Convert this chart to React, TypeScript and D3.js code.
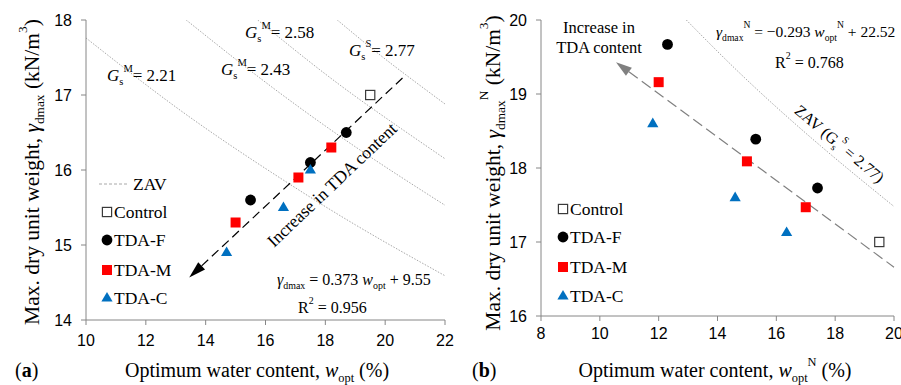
import React from 'react';
import * as d3 from 'd3';

const SERIF = '"Liberation Serif", "DejaVu Serif", serif';
const SANS = '"Liberation Sans", Arial, sans-serif';

// ---------- panel (a) data ----------
const controlA = [[19.5, 17.0]];
const tdaFA = [[15.5, 15.6], [17.5, 16.1], [18.7, 16.5]];
const tdaMA = [[15.0, 15.3], [17.1, 15.9], [18.2, 16.3]];
const tdaCA = [[14.7, 14.9], [16.6, 15.5], [17.5, 16.0]];
const fitA = { slope: 0.373, intercept: 9.55, from: 13.45, to: 20.7 };
// ZAV curves (w %, gamma kN/m3)
const zavA = [
  [[10, 17.76], [13, 16.84], [16, 16.02], [19, 15.27], [22, 14.59]],
  [[13.35, 18.0], [16, 17.17], [19, 16.31], [22, 15.53]],
  [[15.74, 18.0], [18, 17.28], [20, 16.7], [22, 16.15]],
  [[18.4, 18.0], [20, 17.48], [22, 16.88]],
];
const gsLabelsA = [
  { sup: 'M', val: '2.21', x: 107, y: 81 },
  { sup: 'M', val: '2.43', x: 221, y: 75 },
  { sup: 'M', val: '2.58', x: 245, y: 38 },
  { sup: 'S', val: '2.77', x: 349, y: 56 },
];
const xTicksA = [10, 12, 14, 16, 18, 20, 22];
const yTicksA = [14, 15, 16, 17, 18];

// ---------- panel (b) data ----------
const controlB = [[19.5, 17.0]];
const tdaFB = [[12.3, 19.67], [15.3, 18.39], [17.4, 17.73]];
const tdaMB = [[12.0, 19.16], [15.0, 18.09], [17.0, 17.47]];
const tdaCB = [[11.8, 18.6], [14.6, 17.6], [16.35, 17.13]];
const fitB = { slope: -0.293, intercept: 22.52, from: 10.55, to: 20.0 };
const zavB = [[[12.94, 20.0], [15, 19.19], [17.5, 18.3], [20, 17.48]]];
const xTicksB = [8, 10, 12, 14, 16, 18, 20];
const yTicksB = [16, 17, 18, 19, 20];

const legendNames = ['Control', 'TDA-F', 'TDA-M', 'TDA-C'];
const legendKinds = ['control', 'F', 'M', 'C'];

const xA = d3.scaleLinear().domain([10, 22]).range([86, 445]);
const yA = d3.scaleLinear().domain([14, 18]).range([320, 20]);
const xB = d3.scaleLinear().domain([8, 20]).range([541, 894]);
const yB = d3.scaleLinear().domain([16, 20]).range([316, 20]);

const AXIS = '#868686';
const ZAVC = '#a8a8a8';

type Part = { s: string; k?: 'sub' | 'sup'; i?: boolean; b?: boolean };

function Rich({ x = 0, y = 0, size, parts, anchor = 'start', transform, fill = '#000' }: any) {
  let cur = 0;
  return (
    <text x={x} y={y} fontSize={size} fontFamily={SERIF} textAnchor={anchor} transform={transform} fill={fill}>
      {parts.map((p: Part, i: number) => {
        const target = p.k === 'sub' ? size * 0.25 : p.k === 'sup' ? -size * 0.55 : 0;
        const dy = target - cur;
        cur = target;
        return (
          <tspan key={i} dy={dy} fontSize={p.k ? size * 0.62 : size} fontStyle={p.i ? 'italic' : 'normal'} fontWeight={p.b ? 'bold' : 'normal'}>
            {p.s}
          </tspan>
        );
      })}
    </text>
  );
}

function Marker({ kind, x, y }: any) {
  if (kind === 'control')
    return <rect x={x - 4.6} y={y - 4.6} width={9.2} height={9.2} fill="#fff" stroke="#3a3a3a" strokeWidth={1.2} />;
  if (kind === 'F') return <circle cx={x} cy={y} r={5.4} fill="#000" />;
  if (kind === 'M') return <rect x={x - 5} y={y - 5} width={10} height={10} fill="#ff0000" />;
  return <path d={`M${x},${y - 6}L${x + 5.6},${y + 3.6}L${x - 5.6},${y + 3.6}Z`} fill="#0070c0" />;
}

function Axes({ x, y, xTicks, yTicks, xLabelDy }: any) {
  const [x0, x1] = x.range();
  const [yb, yt] = y.range();
  return (
    <g>
      <line x1={x0} x2={x0} y1={yt} y2={yb} stroke={AXIS} />
      <line x1={x0} x2={x1} y1={yb} y2={yb} stroke={AXIS} />
      {yTicks.map((t: number) => (
        <g key={'y' + t}>
          <line x1={x0 - 5} x2={x0} y1={y(t)} y2={y(t)} stroke={AXIS} />
          <text x={x0 - 14} y={y(t)} dy="0.36em" textAnchor="end" fontFamily={SANS} fontSize={16}>{t}</text>
        </g>
      ))}
      {xTicks.map((t: number) => (
        <g key={'x' + t}>
          <line x1={x(t)} x2={x(t)} y1={yb} y2={yb + 5} stroke={AXIS} />
          <text x={x(t)} y={yb + xLabelDy} textAnchor="middle" fontFamily={SANS} fontSize={16}>{t}</text>
        </g>
      ))}
    </g>
  );
}

function FitArrow({ fit, x, y, color, dash, len, hw }: any) {
  const p0 = [x(fit.from), y(fit.slope * fit.from + fit.intercept)];
  const p1 = [x(fit.to), y(fit.slope * fit.to + fit.intercept)];
  const d = Math.hypot(p1[0] - p0[0], p1[1] - p0[1]);
  const u = [(p1[0] - p0[0]) / d, (p1[1] - p0[1]) / d];
  const n = [-u[1], u[0]];
  const b = [p0[0] + u[0] * len, p0[1] + u[1] * len];
  return (
    <g>
      <line x1={b[0]} y1={b[1]} x2={p1[0]} y2={p1[1]} stroke={color} strokeWidth={1.2} strokeDasharray={dash} />
      <path
        d={`M${p0[0]},${p0[1]}L${b[0] + n[0] * hw},${b[1] + n[1] * hw}L${b[0] - n[0] * hw},${b[1] - n[1] * hw}Z`}
        fill={color}
      />
    </g>
  );
}

function Legend({ x, ys }: any) {
  return (
    <g>
      {legendNames.map((name, i) => (
        <g key={name}>
          <Marker kind={legendKinds[i]} x={x} y={ys[i]} />
          <text x={x + 7} y={ys[i]} dy="0.33em" fontFamily={SERIF} fontSize={17.5}>{name}</text>
        </g>
      ))}
    </g>
  );
}

export default function App() {
  const zavLineA = d3.line().x((d: any) => xA(d[0])).y((d: any) => yA(d[1])).curve(d3.curveNatural);
  const zavLineB = d3.line().x((d: any) => xB(d[0])).y((d: any) => yB(d[1])).curve(d3.curveNatural);
  const series = (ctrl: any, f: any, m: any, c: any) => [
    ['control', ctrl], ['F', f], ['M', m], ['C', c],
  ];

  return (
    <svg width={901} height={385} style={{ position: 'absolute', left: 0, top: 0, background: '#fff' }}>
      <defs>
        <clipPath id="clipA"><rect x={86} y={20} width={359} height={300} /></clipPath>
        <clipPath id="clipB"><rect x={541} y={20} width={353} height={296} /></clipPath>
      </defs>

      {/* ---------- (a) ---------- */}
      <g clipPath="url(#clipA)">
        {zavA.map((pts, i) => (
          <path key={i} d={zavLineA(pts as any) || ''} fill="none" stroke={ZAVC} strokeWidth={1} strokeDasharray="1.5,1.5" />
        ))}
      </g>
      <Axes x={xA} y={yA} xTicks={xTicksA} yTicks={yTicksA} xLabelDy={26} />
      {gsLabelsA.map((g) => (
        <Rich key={g.val} x={g.x} y={g.y} size={17}
          parts={[{ s: 'G', i: true }, { s: 's', k: 'sub' }, { s: g.sup, k: 'sup' }, { s: '= ' + g.val }]} />
      ))}
      <FitArrow fit={fitA} x={xA} y={yA} color="#000" dash="9,5" len={17} hw={5} />
      {series(controlA, tdaFA, tdaMA, tdaCA).map(([k, pts]: any) =>
        pts.map((p: number[], i: number) => <Marker key={k + i} kind={k} x={xA(p[0])} y={yA(p[1])} />)
      )}
      <Rich x={0} y={0} size={17.5} anchor="middle" transform="translate(336,189) rotate(-43.5)"
        parts={[{ s: 'Increase in TDA content' }]} />
      <line x1={99} x2={128} y1={184} y2={184} stroke={ZAVC} strokeDasharray="3,2" />
      <text x={133} y={190} fontFamily={SERIF} fontSize={17.5}>ZAV</text>
      <Legend x={107} ys={[212, 240, 270, 298]} />
      <Rich x={277} y={285} size={16}
        parts={[{ s: 'γ', i: true }, { s: 'dmax', k: 'sub' }, { s: ' = 0.373 ' }, { s: 'w', i: true }, { s: 'opt', k: 'sub' }, { s: ' + 9.55' }]} />
      <Rich x={298} y={313} size={16} parts={[{ s: 'R' }, { s: '2', k: 'sup' }, { s: ' = 0.956' }]} />
      <Rich x={0} y={0} size={21.5} anchor="middle" transform="translate(39,172) rotate(-90)"
        parts={[{ s: 'Max. dry unit weight, ' }, { s: 'γ', i: true }, { s: 'dmax', k: 'sub' }, { s: ' (kN/m' }, { s: '3', k: 'sup' }, { s: ')' }]} />
      <Rich x={257} y={377} size={20} anchor="middle"
        parts={[{ s: 'Optimum water content, ' }, { s: 'w', i: true }, { s: 'opt', k: 'sub' }, { s: ' (%)' }]} />
      <Rich x={15} y={377} size={20} parts={[{ s: '(' }, { s: 'a', b: true }, { s: ')' }]} />

      {/* ---------- (b) ---------- */}
      <g clipPath="url(#clipB)">
        {zavB.map((pts, i) => (
          <path key={i} d={zavLineB(pts as any) || ''} fill="none" stroke={ZAVC} strokeWidth={1} strokeDasharray="1.5,1.5" />
        ))}
      </g>
      <Axes x={xB} y={yB} xTicks={xTicksB} yTicks={yTicksB} xLabelDy={23} />
      <FitArrow fit={fitB} x={xB} y={yB} color="#808080" dash="11,5" len={16} hw={5} />
      {series(controlB, tdaFB, tdaMB, tdaCB).map(([k, pts]: any) =>
        pts.map((p: number[], i: number) => <Marker key={k + i} kind={k} x={xB(p[0])} y={yB(p[1])} />)
      )}
      <Rich x={599} y={33} size={16.5} anchor="middle" parts={[{ s: 'Increase in' }]} />
      <Rich x={599} y={53} size={16.5} anchor="middle" parts={[{ s: 'TDA content' }]} />
      <Rich x={716} y={37} size={15.5}
        parts={[{ s: 'γ', i: true }, { s: 'dmax', k: 'sub' }, { s: 'N', k: 'sup' }, { s: ' = −0.293 ' }, { s: 'w', i: true }, { s: 'opt', k: 'sub' }, { s: 'N', k: 'sup' }, { s: ' + 22.52' }]} />
      <Rich x={775} y={68} size={16} parts={[{ s: 'R' }, { s: '2', k: 'sup' }, { s: ' = 0.768' }]} />
      <Rich x={0} y={0} size={16} anchor="middle" transform="translate(836,148) rotate(40)"
        parts={[{ s: 'ZAV (G' }, { s: 's', k: 'sub' }, { s: 'S', k: 'sup' }, { s: ' = 2.77)' }]} />
      <Legend x={563} ys={[209, 237, 267, 296]} />
      <Rich x={0} y={0} size={21.5} anchor="middle" transform="translate(500,173) rotate(-90)"
        parts={[{ s: 'Max. dry unit weight, ' }, { s: 'γ', i: true }, { s: 'dmax', k: 'sub' }, { s: 'N', k: 'sup' }, { s: ' (kN/m' }, { s: '3', k: 'sup' }, { s: ')' }]} />
      <Rich x={715} y={377} size={20} anchor="middle"
        parts={[{ s: 'Optimum water content, ' }, { s: 'w', i: true }, { s: 'opt', k: 'sub' }, { s: 'N', k: 'sup' }, { s: ' (%)' }]} />
      <Rich x={472} y={377} size={20} parts={[{ s: '(' }, { s: 'b', b: true }, { s: ')' }]} />
    </svg>
  );
}
